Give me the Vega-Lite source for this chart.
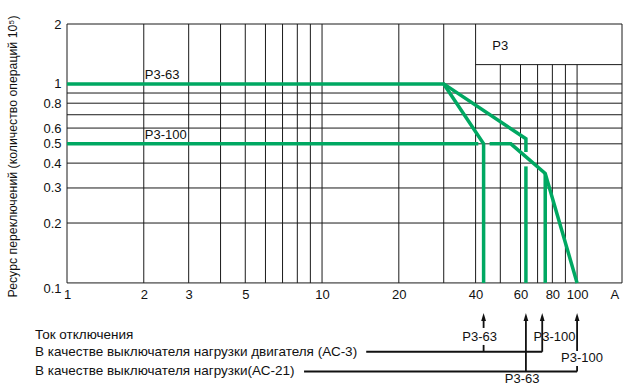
{
  "$schema": "https://vega.github.io/schema/vega-lite/v6.json",
  "width": 555,
  "height": 363,
  "autosize": {"type": "none"},
  "padding": {"left": 67, "top": 24, "right": 7, "bottom": 0},
  "background": "white",
  "config": {
    "view": {"stroke": null},
    "font": "'Liberation Sans Narrow', 'Liberation Sans', Arial, sans-serif"
  },
  "datasets": {
    "grid": [
      {"x": 1, "x2": 1, "y": 0.1, "y2": 2},
      {"x": 2, "x2": 2, "y": 0.1, "y2": 2},
      {"x": 3, "x2": 3, "y": 0.1, "y2": 2},
      {"x": 4, "x2": 4, "y": 0.1, "y2": 2},
      {"x": 5, "x2": 5, "y": 0.1, "y2": 2},
      {"x": 6, "x2": 6, "y": 0.1, "y2": 2},
      {"x": 7, "x2": 7, "y": 0.1, "y2": 2},
      {"x": 8, "x2": 8, "y": 0.1, "y2": 2},
      {"x": 9, "x2": 9, "y": 0.1, "y2": 2},
      {"x": 10, "x2": 10, "y": 0.1, "y2": 2},
      {"x": 20, "x2": 20, "y": 0.1, "y2": 2},
      {"x": 30, "x2": 30, "y": 0.1, "y2": 2},
      {"x": 40, "x2": 40, "y": 0.1, "y2": 2},
      {"x": 50, "x2": 50, "y": 0.1, "y2": 1.25},
      {"x": 60, "x2": 60, "y": 0.1, "y2": 1.25},
      {"x": 70, "x2": 70, "y": 0.1, "y2": 1.25},
      {"x": 80, "x2": 80, "y": 0.1, "y2": 1.25},
      {"x": 90, "x2": 90, "y": 0.1, "y2": 1.25},
      {"x": 100, "x2": 100, "y": 0.1, "y2": 1.25},
      {"x": 150, "x2": 150, "y": 0.1, "y2": 2},
      {"x": 1, "x2": 150, "y": 0.1, "y2": 0.1},
      {"x": 1, "x2": 150, "y": 0.2, "y2": 0.2},
      {"x": 1, "x2": 150, "y": 0.3, "y2": 0.3},
      {"x": 1, "x2": 150, "y": 0.4, "y2": 0.4},
      {"x": 1, "x2": 150, "y": 0.5, "y2": 0.5},
      {"x": 1, "x2": 150, "y": 0.6, "y2": 0.6},
      {"x": 1, "x2": 150, "y": 0.7, "y2": 0.7},
      {"x": 1, "x2": 150, "y": 0.8, "y2": 0.8},
      {"x": 1, "x2": 150, "y": 0.9, "y2": 0.9},
      {"x": 1, "x2": 150, "y": 1, "y2": 1},
      {"x": 1, "x2": 150, "y": 2, "y2": 2},
      {"x": 40, "x2": 150, "y": 1.25, "y2": 1.25}
    ],
    "curves": [
      {"s": "a", "i": 0, "x": 1, "y": 1},
      {"s": "a", "i": 1, "x": 30, "y": 1},
      {"s": "a", "i": 2, "x": 43, "y": 0.5},
      {"s": "a", "i": 3, "x": 43, "y": 0.1},
      {"s": "b", "i": 0, "x": 30, "y": 1},
      {"s": "b", "i": 1, "x": 63, "y": 0.53},
      {"s": "b", "i": 2, "x": 63, "y": 0.455},
      {"s": "c", "i": 0, "x": 63, "y": 0.385},
      {"s": "c", "i": 1, "x": 63, "y": 0.1},
      {"s": "d", "i": 0, "x": 1, "y": 0.5},
      {"s": "d", "i": 1, "x": 41, "y": 0.5},
      {"s": "e", "i": 0, "x": 45.4, "y": 0.5},
      {"s": "e", "i": 1, "x": 55, "y": 0.5},
      {"s": "e", "i": 2, "x": 75, "y": 0.355},
      {"s": "e", "i": 3, "x": 100, "y": 0.1},
      {"s": "f", "i": 0, "x": 75, "y": 0.355},
      {"s": "f", "i": 1, "x": 75, "y": 0.1}
    ],
    "ann": [
      {"x": 14.9, "x2": 73, "y": 0.0451, "y2": 0.0451},
      {"x": 8.5, "x2": 100, "y": 0.0359, "y2": 0.0359},
      {"x": 43, "x2": 43, "y": 0.0451, "y2": 0.0488},
      {"x": 43, "x2": 43, "y": 0.0594, "y2": 0.0655},
      {"x": 73, "x2": 73, "y": 0.0451, "y2": 0.0655},
      {"x": 63, "x2": 63, "y": 0.0359, "y2": 0.0655},
      {"x": 100, "x2": 100, "y": 0.0359, "y2": 0.0382},
      {"x": 100, "x2": 100, "y": 0.0455, "y2": 0.0655}
    ],
    "arrows": [
      {"x": 43, "y": 0.0674},
      {"x": 73, "y": 0.0674},
      {"x": 63, "y": 0.0674},
      {"x": 100, "y": 0.0674}
    ],
    "plotLabels": [
      {"t": "Р3-63", "x": 2, "y": 1},
      {"t": "Р3-100", "x": 2, "y": 0.5}
    ],
    "annLabels": [
      {"t": "Р3", "x": 50, "y": 1.55},
      {"t": "Р3-63", "x": 41.5, "y": 0.0537},
      {"t": "Р3-100", "x": 81.6, "y": 0.0537},
      {"t": "Р3-100", "x": 104.6, "y": 0.0418},
      {"t": "Р3-63", "x": 60.9, "y": 0.0328}
    ],
    "rowTitles": [
      {"t": "Ток отключения", "x": 1, "y": 0.0548},
      {"t": "В качестве выключателя нагрузки двигателя (АС-3)", "x": 1, "y": 0.0451},
      {"t": "В качестве выключателя нагрузки(АС-21)", "x": 1, "y": 0.0359}
    ]
  },
  "encoding": {
    "x": {
      "field": "x",
      "type": "quantitative",
      "scale": {"type": "log", "domain": [1, 150], "nice": false},
      "axis": {
        "values": [1, 2, 3, 5, 10, 20, 40, 60, 80, 100, 140],
        "format": "~g",
        "labelExpr": "datum.value == 140 ? 'A' : datum.label",
        "offset": -104,
        "domain": false,
        "ticks": false,
        "grid": false,
        "labelPadding": 5,
        "labelOverlap": false,
        "labelFlush": false,
        "labelBound": false,
        "labelFontSize": 13,
        "labelColor": "#111",
        "title": null
      }
    },
    "y": {
      "field": "y",
      "type": "quantitative",
      "scale": {"type": "log", "domain": [0.03, 2], "nice": false},
      "axis": {
        "values": [0.1, 0.2, 0.3, 0.4, 0.5, 0.6, 0.8, 1, 2],
        "format": "~g",
        "domain": false,
        "ticks": false,
        "grid": false,
        "labelPadding": 6,
        "labelFontSize": 13,
        "labelColor": "#111",
        "labelOverlap": false,
        "labelBaseline": {"condition": {"test": "datum.value < 0.15", "value": "top"}, "value": "middle"},
        "title": "Ресурс переключений (количество операций 10⁵)",
        "titleFontSize": 12.3,
        "titleFontWeight": "normal",
        "titleColor": "#111",
        "titleX": -55,
        "titleY": 132,
        "titleAngle": -90,
        "titleBaseline": "middle",
        "titleAlign": "center"
      }
    }
  },
  "layer": [
    {
      "data": {"name": "grid"},
      "mark": {"type": "rule", "color": "#1a1a1a", "strokeWidth": 1},
      "encoding": {"x2": {"field": "x2"}, "y2": {"field": "y2"}}
    },
    {
      "data": {"name": "curves"},
      "mark": {"type": "line", "color": "#00a862", "strokeWidth": 3.5, "strokeJoin": "miter"},
      "encoding": {"detail": {"field": "s"}, "order": {"field": "i"}}
    },
    {
      "data": {"name": "ann"},
      "mark": {"type": "rule", "color": "#111", "strokeWidth": 1.8},
      "encoding": {"x2": {"field": "x2"}, "y2": {"field": "y2"}}
    },
    {
      "data": {"name": "arrows"},
      "mark": {"type": "point", "shape": "M0,-1L0.6,1L-0.6,1Z", "size": 64, "filled": true, "color": "#111", "opacity": 1}
    },
    {
      "data": {"name": "plotLabels"},
      "mark": {"type": "text", "align": "left", "baseline": "alphabetic", "dx": 1, "dy": -5, "fontSize": 13, "color": "#111"},
      "encoding": {"text": {"field": "t"}}
    },
    {
      "data": {"name": "annLabels"},
      "mark": {"type": "text", "align": "center", "baseline": "middle", "fontSize": 13, "color": "#111"},
      "encoding": {"text": {"field": "t"}}
    },
    {
      "data": {"name": "rowTitles"},
      "mark": {"type": "text", "align": "left", "baseline": "middle", "dx": -32, "fontSize": 13.5, "color": "#111"},
      "encoding": {"text": {"field": "t"}}
    }
  ]
}
